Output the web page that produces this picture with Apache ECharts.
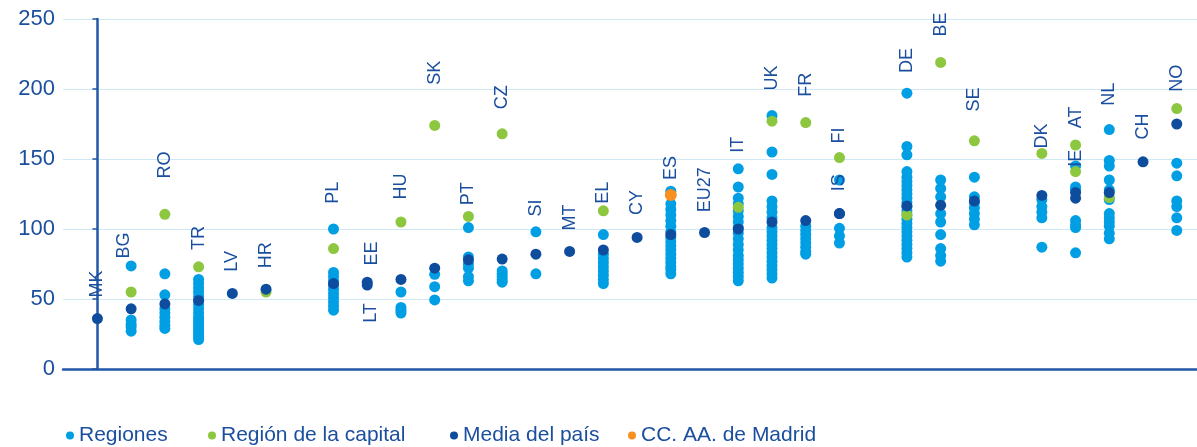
<!DOCTYPE html>
<html>
<head>
<meta charset="utf-8">
<script src="https://cdn.jsdelivr.net/npm/echarts@6.0.0/dist/echarts.min.js"></script>
<style>
html,body{margin:0;padding:0;background:#fff;}
#chart{width:1197px;height:447px;}
</style>
</head>
<body>
<div id="chart"></div>
<script>
// ---- data ----
const countries = ['MK','BG','RO','TR','LV','HR','PL','LT','EE','HU','SK','PT','CZ','SI','MT','EL','CY','ES','EU27','IT','UK','FR','FI','IS','DE','BE','SE','DK','IE','AT','NL','CH','NO'];
// position (order) of each country along the horizontal axis
const xPos = [0,1,2,3,4,5,7,8,8,9,10,11,12,13,14,15,16,17,18,19,20,21,22,22,24,25,26,28,29,29,30,31,32];
const regiones = [
  [],                                                        // MK
  [73.6,35,32,30,27],                                        // BG
  [68,53,43,40,37,34,31,29],                                 // RO
  [64,61,58,55,52,49,46,43,40,37,35,33,31,29,27,25,23,21],   // TR
  [],                                                        // LV
  [],                                                        // HR
  [100,69,66,63,60,57,54,51,48,45,42],                       // PL
  [],                                                        // LT
  [],                                                        // EE
  [55,44,42,40],                                             // HU
  [67.6,58.8,49.3],                                          // SK
  [101,80,75,72,66,63],                                      // PT
  [70,68,66,64,62],                                          // CZ
  [98,68],                                                   // SI
  [],                                                        // MT
  [96,82,79,76,73,70,67,64,61],                              // EL
  [],                                                        // CY
  [127,118,114,110,106,102,98,94,91,88,85,82,79,76,73,71,68],// ES
  [],                                                        // EU27
  [143,130,122,118,113,109,105,101,97,93,89,85,81,78,75,72,69,66,63], // IT
  [181,155,139,120,116,112,108,101,98,95,92,89,86,83,80,77,74,71,68,65], // UK
  [102,99,96,93,90,87,84,82],                                // FR
  [135,100.5,95,90],                                         // FI
  [],                                                        // IS
  [197,159,153,141,137,134,131,128,125,122,119,116,113,110,107,104,101,98,95,92,89,86,83,80], // DE
  [135,129,123,111,105,96,86,81,77],                         // BE
  [137,123,119,115,111,107,103],                             // SE
  [121,116,112,108,87],                                      // DK
  [101],                                                     // IE
  [145,130,128,106,103,83],                                  // AT
  [171,149,145,135,128,121,111,108,105,102,97,93],           // NL
  [],                                                        // CH
  [147,138,120,116,108,99]                                   // NO
];
const capital = [null,55,110.5,73,null,55,86,null,null,105,174,109,168,null,null,113,null,null,null,115.5,177,176,151,null,110,219,163,154,141,160,122.5,null,186];
const media   = [36,43,46.5,49,54,57,61,60,62,64,72,78,78.5,82,84,85,94,96,97.5,100,105,106,111,111,116.5,117,120,124,122,126,126,148,175];
const madrid  = {country:'ES', value:124.3};
// where each country code label starts (value units) and its horizontal order position
const labelStart = [51,79,136,85,69.5,72,118,33,74,121,203,117,185.5,109,99,118,110,135,112,154.5,199,194.5,161,127,211.5,237.5,184,157.5,144.5,172,188,164,198];
const labelX = [0,0.8,2,3,4,5,7,8.1,8.15,9,10,11,12,13,14,15,16,17,18,19,20,21,22,22,24,25,26,28,29,29,30,31,32];
const yTicks = {min:0, max:250, step:50};
const legendNames = ['Regiones','Región de la capital','Media del país','CC. AA. de Madrid'];

// ---- build ----
const FONT = '"Liberation Sans", Arial, sans-serif';
const TXT = '#1A4E9E';
const C = {reg:'#009FE3', cap:'#8DC63F', med:'#0E4C9D', mad:'#F7901E'};

const regData = [];
countries.forEach((c,i)=>regiones[i].forEach(v=>regData.push([xPos[i], v])));
const capData = [];
capital.forEach((v,i)=>{ if(v!=null) capData.push([xPos[i], v]); });
const medData = [];
media.forEach((v,i)=>{ if(v!=null) medData.push([xPos[i], v]); });
const madData = [[xPos[countries.indexOf(madrid.country)], madrid.value]];
const lblData = countries.map((c,i)=>({name:c, value:[labelX[i], labelStart[i]]}));

const chart = echarts.init(document.getElementById('chart'), null, {renderer:'canvas'});
const legendLeft = [66, 208, 450, 628];
chart.setOption({
  animation:false,
  textStyle:{fontFamily:FONT},
  grid:{left:63, right:0, top:19, bottom:78, containLabel:false},
  xAxis:{
    type:'value', min:-1.02, max:32.6,
    axisLine:{show:true, onZero:false, lineStyle:{color:'#2057A7', width:2.5}},
    axisTick:{show:false}, axisLabel:{show:false}, splitLine:{show:false}
  },
  yAxis:{
    type:'value', min:yTicks.min, max:yTicks.max, interval:yTicks.step,
    axisLine:{show:true, lineStyle:{color:'#2057A7', width:2.5}},
    axisTick:{show:true, length:5, lineStyle:{color:'#2057A7', width:1.5}},
    axisLabel:{color:TXT, fontSize:22, fontFamily:FONT, margin:8},
    splitLine:{show:true, lineStyle:{color:'#CFE8F6', width:1.2}}
  },
  legend: legendNames.map((n,i)=>({
    data:[n], left:legendLeft[i], top:425, icon:'circle', itemWidth:8, itemHeight:8,
    padding:0, textStyle:{color:TXT, fontSize:21, fontFamily:FONT}
  })),
  series:[
    {name:legendNames[0], type:'scatter', data:regData, symbolSize:11, itemStyle:{color:C.reg, opacity:1}, z:2},
    {name:legendNames[1], type:'scatter', data:capData, symbolSize:11, itemStyle:{color:C.cap, opacity:1}, z:3},
    {name:legendNames[2], type:'scatter', data:medData, symbolSize:11, itemStyle:{color:C.med, opacity:1}, z:4},
    {name:legendNames[3], type:'scatter', data:madData, symbolSize:12, itemStyle:{color:C.mad, opacity:1}, z:5},
    {name:'labels', type:'scatter', data:lblData, symbolSize:0, silent:true, z:10,
     itemStyle:{color:TXT},
     label:{show:true, formatter:'{b}', position:'inside', rotate:90, align:'left', verticalAlign:'middle',
            color:TXT, fontSize:18, fontFamily:FONT, textBorderWidth:0, textBorderColor:'transparent',
            textShadowBlur:0, opacity:1}}
  ]
});
</script>
</body>
</html>
